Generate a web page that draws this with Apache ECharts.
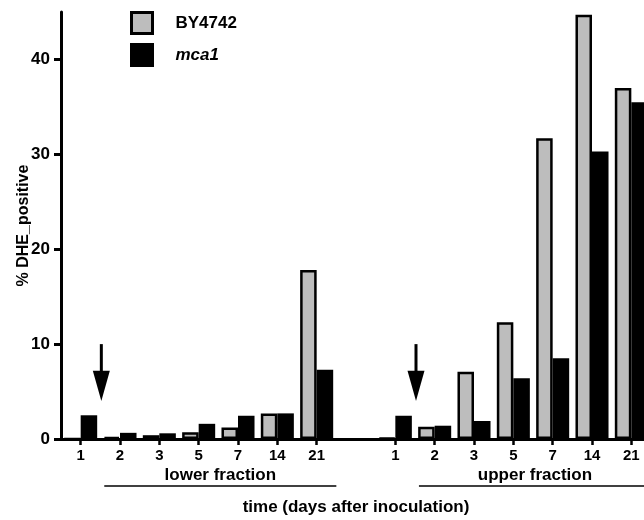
<!DOCTYPE html>
<html>
<head>
<meta charset="utf-8">
<script src="https://cdn.jsdelivr.net/npm/echarts@6/dist/echarts.min.js"></script>
<style>
html,body{margin:0;padding:0;background:#fff;}
#c{width:644px;height:520px;}
</style>
</head>
<body>
<div id="c"></div>
<script>
// ---- data ----
var categories = ['1','2','3','5','7','14','21','','1','2','3','5','7','14','21'];
var seriesNames = ['BY4742','mca1'];
var by4742 = [0, 0.2, 0.4, 0.7, 1.2, 2.7, 17.8, null, 0.1, 1.3, 7.1, 12.3, 31.7, 44.7, 37.0];
var mca1   = [2.5, 0.65, 0.6, 1.6, 2.45, 2.7, 7.3, null, 2.45, 1.4, 1.9, 6.4, 8.5, 30.3, 35.5];
var yTicks = [0, 10, 20, 30, 40];
var groupLabels = ['lower fraction', 'upper fraction'];
var groupRanges = [[0, 6], [8, 14]];   // category index ranges
var arrowAfter = [0, 8];               // arrows sit between these categories and the next
var arrowValues = [10, 7.2, 4.0];      // shaft top, head top, tip (y values)

var FONT = '"Liberation Sans", Arial, sans-serif';
var chart = echarts.init(document.getElementById('c'), null, {renderer: 'canvas'});

var option = {
  animation: false,
  backgroundColor: '#fff',
  textStyle: {fontFamily: FONT},
  grid: {left: 61, right: -7, top: 12, bottom: 81, containLabel: false, outerBoundsMode: 'none'},
  legend: {
    orient: 'vertical', left: 130, top: 11, padding: 0,
    itemWidth: 21, itemHeight: 21, itemGap: 8,
    itemStyle: {borderWidth: 3, borderColor: '#000'},
    textStyle: {fontFamily: FONT, fontSize: 17, fontWeight: 'bold', color: '#000', padding: [0, 0, 0, 18]},
    data: [
      {name: seriesNames[0], icon: 'rect'},
      {name: seriesNames[1], icon: 'rect', textStyle: {fontStyle: 'italic'}}
    ]
  },
  xAxis: {
    type: 'category', data: categories,
    axisLine: {lineStyle: {color: '#000', width: 3}},
    axisTick: {show: true, alignWithLabel: true, length: 6, lineStyle: {color: '#000', width: 2.5},
      interval: function (i, v) { return v !== ''; }},
    axisLabel: {interval: 0, margin: 9, fontFamily: FONT, fontSize: 15, fontWeight: 'bold', color: '#000'},
    name: 'time (days after inoculation)', nameLocation: 'middle', nameGap: 60, nameMoveOverlap: false,
    nameTextStyle: {fontFamily: FONT, fontSize: 17, fontWeight: 'bold', color: '#000'}
  },
  yAxis: {
    type: 'value', min: 0, max: 45,
    splitLine: {show: false},
    axisLine: {show: true, lineStyle: {color: '#000', width: 3}},
    axisTick: {show: true, length: 7, lineStyle: {color: '#000', width: 3}, customValues: yTicks},
    axisLabel: {margin: 11, fontFamily: FONT, fontSize: 17, fontWeight: 'bold', color: '#000', customValues: yTicks},
    name: '% DHE_positive', nameLocation: 'middle', nameGap: 29, nameRotate: 90, nameMoveOverlap: false,
    nameTextStyle: {fontFamily: FONT, fontSize: 16, fontWeight: 'bold', color: '#000'}
  },
  series: [
    {name: seriesNames[0], type: 'bar', data: by4742, barGap: '0%', barCategoryGap: '16%',
     itemStyle: {color: '#bdbdbd', borderColor: '#000', borderWidth: 2.5}},
    {name: seriesNames[1], type: 'bar', data: mca1, barGap: '0%', barCategoryGap: '16%',
     itemStyle: {color: '#000', borderColor: '#000', borderWidth: 0}}
  ]
};
chart.setOption(option);

// annotations (arrows, fraction brackets) positioned through the chart's own scales
function px(i, v) { return chart.convertToPixel({gridIndex: 0}, [i, v]); }
var step = px(1, 0)[0] - px(0, 0)[0];
var graphics = [];
arrowAfter.forEach(function (i) {
  var x = (px(i, 0)[0] + px(i + 1, 0)[0]) / 2 + 1;
  var yTop = px(i, arrowValues[0])[1];
  var yHead = px(i, arrowValues[1])[1];
  var yTip = px(i, arrowValues[2])[1];
  graphics.push({type: 'line', shape: {x1: x, y1: yTop, x2: x, y2: yHead + 1}, style: {stroke: '#000', lineWidth: 3}});
  graphics.push({type: 'polygon', shape: {points: [[x - 8.5, yHead], [x + 8.5, yHead], [x, yTip]]}, style: {fill: '#000'}});
});
groupRanges.forEach(function (r, k) {
  var x1 = px(r[0], 0)[0] + 0.6 * step;
  var x2 = px(r[1], 0)[0] + 0.5 * step;
  graphics.push({type: 'line', shape: {x1: x1, y1: 486, x2: x2, y2: 486}, style: {stroke: '#000', lineWidth: 1.5}});
  graphics.push({type: 'text', x: (x1 + x2) / 2, y: 475,
    style: {text: groupLabels[k], fill: '#000', font: 'bold 17px ' + FONT, textAlign: 'center', textVerticalAlign: 'middle'}});
});
chart.setOption({graphic: graphics});
</script>
</body>
</html>
